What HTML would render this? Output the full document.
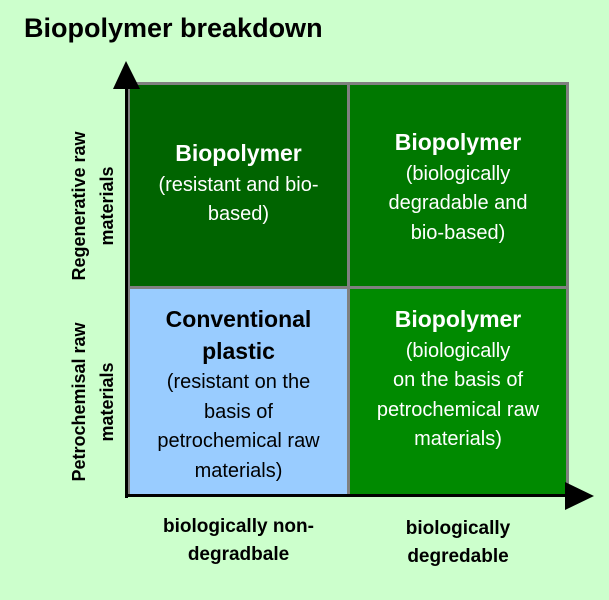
<!DOCTYPE html>
<html><head><meta charset="utf-8"><style>
body{margin:0;width:609px;height:600px;background:#ccffcc;position:relative;overflow:hidden;font-family:"Liberation Sans",Arial,sans-serif}
.a{position:absolute}
.c{position:absolute;text-align:center;color:#fff;font-size:20px;line-height:29.5px}
.c b{font-size:23px}
.r{position:absolute;transform:rotate(-90deg);transform-origin:center;text-align:center;font-size:18px;font-weight:bold;line-height:28px;white-space:nowrap}
</style></head><body>
<div class="a" style="left:24px;top:13px;font-size:27px;font-weight:bold">Biopolymer breakdown</div>
<div class="a" style="left:127px;top:82px;width:442px;height:415px;background:#808080"></div>
<div class="a" style="left:130px;top:85px;width:217px;height:201px;background:#006400"></div>
<div class="a" style="left:350px;top:85px;width:216px;height:201px;background:#007800"></div>
<div class="a" style="left:130px;top:289px;width:217px;height:207px;background:#99ccff"></div>
<div class="a" style="left:350px;top:289px;width:216px;height:207px;background:#008a00"></div>
<div class="c" style="left:130px;top:139px;width:217px"><b>Biopolymer</b><br>(resistant and bio-<br>based)</div>
<div class="c" style="left:350px;top:128px;width:216px"><b>Biopolymer</b><br>(biologically<br>degradable and<br>bio-based)</div>
<div class="c" style="left:130px;top:305px;width:217px;color:#000"><b>Conventional<br>plastic</b><br>(resistant on the<br>basis of<br>petrochemical raw<br>materials)</div>
<div class="c" style="left:350px;top:305px;width:216px"><b>Biopolymer</b><br>(biologically<br>on the basis of<br>petrochemical raw<br>materials)</div>
<div class="a" style="left:125px;top:80px;width:3px;height:418px;background:#000"></div>
<div class="a" style="left:125px;top:494px;width:445px;height:3px;background:#000"></div>
<svg class="a" style="left:0;top:0" width="609" height="600"><polygon points="126,61 113,89 140,89" fill="#000"/><polygon points="594,496 565,482 565,510" fill="#000"/></svg>
<div class="r" style="left:-2px;top:178px;width:190px;height:56px">Regenerative raw<br>materials</div>
<div class="r" style="left:-2px;top:374px;width:190px;height:56px">Petrochemisal raw<br>materials</div>
<div class="a" style="left:130px;top:513px;width:217px;text-align:center;font-size:19px;font-weight:bold;line-height:28px">biologically non-<br>degradbale</div>
<div class="a" style="left:350px;top:515px;width:216px;text-align:center;font-size:19px;font-weight:bold;line-height:28px">biologically<br>degredable</div>
</body></html>
